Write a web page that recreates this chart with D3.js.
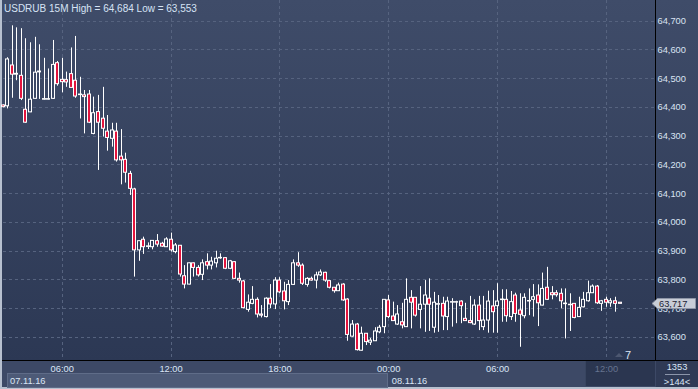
<!DOCTYPE html>
<html>
<head>
<meta charset="utf-8">
<script src="https://cdn.jsdelivr.net/npm/d3@7"></script>
<style>
  html, body { margin: 0; padding: 0; background: #b7c0cf; }
  svg { display: block; font-family: "Liberation Sans", Arial, sans-serif; }
</style>
</head>
<body>
<svg id="chart" width="698" height="389"></svg>
<script>
// 15 minute bars, first bar at 02:45
const startTime = "2016-11-07 02:45";

const opens = [
  64407, 64404, 64546, 64514, 64510, 64392, 64383, 64430, 64522, 64427,
  64427, 64430, 64554, 64496, 64495, 64516, 64493, 64445, 64442, 64445,
  64308, 64384, 64361, 64316, 64291, 64316, 64229, 64218, 64169, 64115,
  63903, 63940, 63915, 63914, 63935, 63926, 63914, 63940, 63897, 63919,
  63813, 63784, 63858, 63842, 63818, 63862, 63850, 63858, 63876, 63876,
  63839, 63862, 63804, 63795, 63696, 63717, 63731, 63680, 63671, 63735,
  63715, 63798, 63760, 63723, 63783, 63858, 63850, 63783, 63804, 63798,
  63816, 63825, 63796, 63773, 63761, 63784, 63732, 63603, 63645, 63554,
  63613, 63582, 63587, 63618, 63636, 63729, 63673, 63645, 63653, 63636,
  63738, 63738, 63696, 63714, 63735, 63634, 63714, 63717, 63671, 63722,
  63722, 63725, 63665, 63657, 63645, 63711, 63636, 63659, 63708, 63709,
  63730, 63731, 63671, 63746, 63694, 63674, 63726, 63731, 63746, 63711,
  63773, 63754, 63754, 63752, 63716, 63713, 63717, 63671, 63705, 63726,
  63754, 63777, 63717, 63731, 63719, 63726, 63721
];

const highs = [
  64409, 64573, 64684, 64677, 64674, 64639, 64625, 64644, 64618, 64571,
  64534, 64633, 64560, 64571, 64523, 64607, 64647, 64505, 64459, 64459,
  64436, 64442, 64470, 64372, 64345, 64345, 64323, 64241, 64178, 64119,
  63936, 63949, 63929, 63937, 63958, 63931, 63947, 63963, 63927, 63920,
  63850, 63859, 63859, 63850, 63870, 63891, 63879, 63900, 63891, 63878,
  63868, 63864, 63824, 63798, 63748, 63777, 63738, 63711, 63738, 63784,
  63808, 63808, 63792, 63798, 63870, 63895, 63856, 63808, 63810, 63827,
  63835, 63827, 63798, 63774, 63789, 63787, 63735, 63659, 63649, 63636,
  63614, 63597, 63634, 63642, 63732, 63746, 63723, 63711, 63719, 63804,
  63763, 63739, 63777, 63798, 63804, 63757, 63746, 63740, 63740, 63735,
  63726, 63728, 63719, 63743, 63731, 63743, 63743, 63761, 63763, 63787,
  63766, 63766, 63760, 63754, 63752, 63752, 63769, 63784, 63783, 63824,
  63844, 63777, 63763, 63769, 63769, 63752, 63718, 63740, 63757, 63796,
  63783, 63781, 63729, 63740, 63735, 63740, 63721
];

const lows = [
  64399, 64395, 64432, 64493, 64424, 64345, 64382, 64428, 64428, 64426,
  64426, 64428, 64474, 64451, 64470, 64467, 64432, 64360, 64308, 64344,
  64305, 64181, 64297, 64248, 64262, 64210, 64131, 64137, 64094, 63810,
  63865, 63889, 63906, 63905, 63914, 63913, 63913, 63897, 63891, 63810,
  63769, 63783, 63810, 63810, 63798, 63835, 63835, 63842, 63872, 63836,
  63836, 63802, 63789, 63700, 63688, 63714, 63668, 63668, 63668, 63700,
  63697, 63752, 63696, 63711, 63781, 63844, 63781, 63775, 63796, 63769,
  63812, 63792, 63769, 63754, 63760, 63726, 63587, 63601, 63553, 63553,
  63572, 63572, 63586, 63613, 63613, 63666, 63656, 63642, 63630, 63635,
  63630, 63671, 63630, 63618, 63621, 63615, 63618, 63624, 63624, 63636,
  63648, 63648, 63656, 63648, 63642, 63624, 63624, 63615, 63615, 63615,
  63653, 63653, 63659, 63653, 63566, 63665, 63676, 63671, 63638, 63710,
  63729, 63731, 63740, 63700, 63595, 63621, 63665, 63670, 63703, 63723,
  63754, 63715, 63691, 63705, 63705, 63688, 63717
];

const closes = [
  64401, 64567, 64514, 64517, 64430, 64347, 64427, 64521, 64525, 64429,
  64429, 64548, 64481, 64488, 64487, 64468, 64438, 64443, 64436, 64347,
  64380, 64347, 64326, 64294, 64320, 64216, 64216, 64173, 64117, 63903,
  63935, 63914, 63917, 63936, 63923, 63916, 63941, 63903, 63920, 63819,
  63784, 63858, 63842, 63816, 63858, 63850, 63864, 63874, 63877, 63839,
  63865, 63804, 63798, 63702, 63721, 63731, 63680, 63676, 63735, 63715,
  63798, 63757, 63726, 63783, 63858, 63850, 63787, 63804, 63798, 63816,
  63826, 63798, 63773, 63761, 63781, 63729, 63609, 63645, 63556, 63613,
  63584, 63589, 63621, 63634, 63731, 63671, 63657, 63680, 63642, 63731,
  63721, 63676, 63714, 63746, 63714, 63721, 63716, 63673, 63725, 63723,
  63723, 63709, 63657, 63650, 63711, 63657, 63659, 63725, 63688, 63725,
  63732, 63674, 63723, 63682, 63679, 63738, 63727, 63740, 63719, 63769,
  63731, 63747, 63747, 63726, 63718, 63714, 63668, 63703, 63731, 63754,
  63777, 63719, 63726, 63721, 63726, 63717, 63717
];

const yTicks = [63600, 63700, 63800, 63900, 64000, 64100, 64200, 64300, 64400, 64500, 64600, 64700];
const xTicks = ["2016-11-07 06:00", "2016-11-07 12:00", "2016-11-07 18:00", "2016-11-08 00:00", "2016-11-08 06:00", "2016-11-08 12:00"];
const dateLabels = ["07.11.16", "08.11.16"];
const dateStarts = ["2016-11-07 00:00", "2016-11-08 00:00"];
const titleText = "USDRUB 15M High = 64,684 Low = 63,553";
const lastPrice = 63717;
const barCount = "1353";
const zoomText = ">144<";

const W = 698, H = 389;
const plot = { left: 2, right: 655, top: 0, bottom: 360 };

const parse = d3.utcParse("%Y-%m-%d %H:%M");
const t0 = parse(startTime);
const bars = opens.map((o, i) => ({
  t: d3.utcMinute.offset(t0, i * 15),
  o: o, h: highs[i], l: lows[i], c: closes[i]
}));

const x = d3.scaleUtc()
  .domain([parse("2016-11-07 00:00"), parse("2016-11-08 14:00")])
  .range([-47.1, 642.2]);

const y = d3.scaleLinear()
  .domain([63600, 64700])
  .range([337, 20.7]);

const svg = d3.select("#chart");
const defs = svg.append("defs");
const grad = defs.append("linearGradient")
  .attr("id", "bg").attr("gradientUnits", "userSpaceOnUse")
  .attr("x1", 0).attr("y1", 0).attr("x2", 0).attr("y2", plot.bottom + 1);
grad.append("stop").attr("offset", "0%").attr("stop-color", "#3f4c69");
grad.append("stop").attr("offset", "100%").attr("stop-color", "#2c3854");

// backgrounds
svg.append("rect").attr("x", 0).attr("y", 0).attr("width", W).attr("height", H).attr("fill", "#b7c0cf");
svg.append("rect")
  .attr("x", plot.left).attr("y", 0)
  .attr("width", W - plot.left).attr("height", plot.bottom + 1)
  .attr("fill", "url(#bg)");

// bottom band
svg.append("rect").attr("x", plot.left).attr("y", 361).attr("width", W - plot.left).attr("height", 26).attr("fill", "#3d4966");
svg.append("rect").attr("x", 7.5).attr("y", 373.5).attr("width", 380).attr("height", 14).attr("fill", "#4d5a77").attr("stroke", "#5f6c88");
svg.append("rect").attr("x", x(parse("2016-11-08 11:00")) - 2).attr("y", 361).attr("width", plot.right + 2 - x(parse("2016-11-08 11:00"))).attr("height", 25).attr("fill", "#2b3650");
svg.append("rect").attr("x", plot.right + 1).attr("y", 361).attr("width", W - plot.right - 1).attr("height", 26).attr("fill", "#2f3a55");

// grid
const grid = svg.append("g").attr("stroke", "#56637f").attr("stroke-dasharray", "3,3");
grid.selectAll(".horizontal")
  .data(yTicks)
  .enter()
  .append("line")
  .attr("x1", plot.left + 1)
  .attr("x2", plot.right)
  .attr("y1", function (d) { return Math.round(y(d)) + 0.5; })
  .attr("y2", function (d) { return Math.round(y(d)) + 0.5; });
grid.selectAll(".vertical")
  .data(xTicks.map(parse))
  .enter()
  .append("line")
  .attr("y1", 0)
  .attr("y2", plot.bottom)
  .attr("x1", function (d) { return Math.round(x(d)) + 0.5; })
  .attr("x2", function (d) { return Math.round(x(d)) + 0.5; });

// candles
const candles = svg.append("g");
candles.selectAll(".wick")
  .data(bars)
  .enter()
  .append("line")
  .attr("x1", function (d) { return Math.round(x(d.t)) + 0.5; })
  .attr("x2", function (d) { return Math.round(x(d.t)) + 0.5; })
  .attr("y1", function (d) { return y(d.h); })
  .attr("y2", function (d) { return y(d.l); })
  .attr("stroke", "#ffffff")
  .attr("stroke-width", 1);
candles.selectAll(".body")
  .data(bars)
  .enter()
  .append("rect")
  .attr("x", function (d) { return Math.round(x(d.t)) - 1.5; })
  .attr("width", 3)
  .attr("y", function (d) { return y(Math.max(d.o, d.c)); })
  .attr("height", function (d) { return Math.max(0.5, Math.abs(y(d.o) - y(d.c))); })
  .attr("fill", function (d) { return d.c < d.o ? "#e3143d" : "url(#bg)"; })
  .attr("stroke", "#ffffff")
  .attr("stroke-width", 1);

// frame lines
svg.append("line").attr("x1", plot.right + 0.5).attr("x2", plot.right + 0.5).attr("y1", 0).attr("y2", 361).attr("stroke", "#000");
svg.append("line").attr("x1", plot.left).attr("x2", W).attr("y1", 360.5).attr("y2", 360.5).attr("stroke", "#000");

// y axis
const yAxis = svg.append("g")
  .attr("transform", "translate(" + plot.right + ",0)")
  .call(d3.axisRight(y).tickValues(yTicks).tickFormat(d3.format(",")).tickSize(0).tickPadding(2.5));
yAxis.select(".domain").remove();
yAxis.selectAll("text").attr("fill", "#d9e3f2").attr("font-size", 9.3).attr("font-family", "Liberation Sans, Arial, sans-serif");

// x axis
const xAxis = svg.append("g")
  .attr("transform", "translate(0,361)")
  .call(d3.axisBottom(x).tickValues(xTicks.map(parse)).tickFormat(d3.utcFormat("%H:%M")).tickSize(0).tickPadding(4));
xAxis.select(".domain").remove();
xAxis.selectAll("text")
  .attr("fill", function (d, i) { return i === xTicks.length - 1 ? "#66738f" : "#dbe6f6"; })
  .attr("font-size", 9.3).attr("font-family", "Liberation Sans, Arial, sans-serif");

// date labels
svg.selectAll(".date")
  .data(dateLabels)
  .enter()
  .append("text")
  .attr("x", function (d, i) { return i === 0 ? 10 : x(parse(dateStarts[i])) + 3.5; })
  .attr("y", 383.5)
  .attr("fill", "#dbe6f6")
  .attr("font-size", 9.3)
  .text(function (d) { return d; });

// title
svg.append("text").attr("x", 4).attr("y", 12).attr("fill", "#d6e3f5").attr("font-size", 10).text(titleText);

// last price marker
const py = Math.round(y(lastPrice));
svg.append("path")
  .attr("d", "M652," + (py + 0.5) + " L657.5," + (py - 4.5) + " L695.5," + (py - 4.5) + " L695.5," + (py + 5.5) + " L657.5," + (py + 5.5) + " Z")
  .attr("fill", "#c8cdd7").attr("stroke", "#8e96a7");
svg.append("text").attr("x", 659).attr("y", py + 4).attr("fill", "#1c2334").attr("font-size", 9.3)
  .text(d3.format(",")(lastPrice));

// bar count box
svg.append("text").attr("x", 677).attr("y", 370).attr("text-anchor", "middle").attr("fill", "#dbe6f6").attr("font-size", 9.3).text(barCount);
svg.append("line").attr("x1", 665).attr("x2", 690).attr("y1", 374.5).attr("y2", 374.5).attr("stroke", "#8b95aa");
svg.append("text").attr("x", 677).attr("y", 385).attr("text-anchor", "middle").attr("fill", "#dbe6f6").attr("font-size", 9.3).text(zoomText);

// scroll marker
svg.append("path").attr("d", "M615,357 L619,353 L623,357 Z").attr("fill", "#4c5770");
svg.append("text").attr("x", 625).attr("y", 359).attr("fill", "#dbe6f6").attr("font-size", 11).text("7");
</script>
</body>
</html>
